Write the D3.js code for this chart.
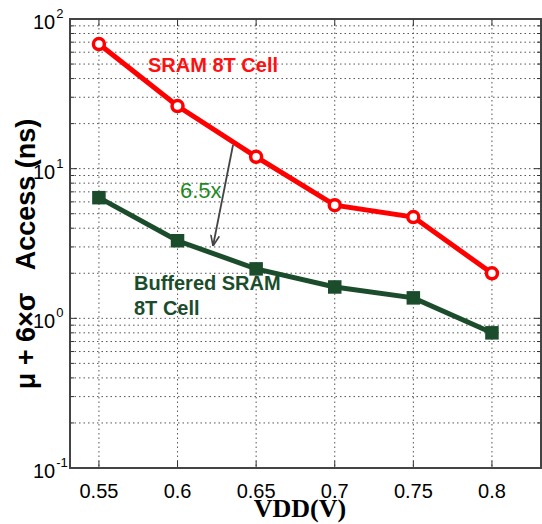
<html>
<head>
    <script src="https://d3js.org/d3.v7.min.js"></script>
    <style>
        body { margin: 0; background: #fff; }
        .grid line { stroke: #555; stroke-dasharray: 1.5,3; stroke-width: 1; }
        .tick-lbl { font-family: "Liberation Sans", Arial, sans-serif; font-size: 20px; fill: #000; }
    </style>
</head>
<body>
    <script>
        // data
        var vdd = [0.55, 0.6, 0.65, 0.7, 0.75, 0.8];
        var sram8T = [68, 26.2, 12, 5.7, 4.75, 2.0];
        var buffered8T = [6.4, 3.3, 2.14, 1.62, 1.37, 0.80];
        var xTicks = ["0.55", "0.6", "0.65", "0.7", "0.75", "0.8"];
        var yDecades = [-1, 0, 1, 2];

        var width = 542, height = 524;
        var pLeft = 70, pRight = 541, pTop = 19, pBottom = 468;

        var svg = d3.select("body").append("svg")
            .attr("width", width)
            .attr("height", height);

        var x = d3.scaleLinear().domain([0.5316, 0.8312]).range([pLeft, pRight]);
        var y = d3.scaleLog().domain([0.1, 100]).range([pBottom, pTop]);

        // grid lines
        var minor = [];
        for (var e = -1; e < 2; e++) {
            for (var m = 2; m <= 9; m++) minor.push(m * Math.pow(10, e));
        }
        var grid = svg.append("g").attr("class", "grid");
        grid.selectAll(".h")
            .data(minor.concat([1, 10]))
            .enter().append("line")
            .attr("x1", pLeft).attr("x2", pRight)
            .attr("y1", function (d) { return y(d); })
            .attr("y2", function (d) { return y(d); });
        grid.selectAll(".v")
            .data(vdd)
            .enter().append("line")
            .attr("y1", pTop).attr("y2", pBottom)
            .attr("x1", function (d) { return x(d); })
            .attr("x2", function (d) { return x(d); });

        // inward ticks, matlab style
        var ticks = svg.append("g").attr("stroke", "#333").attr("stroke-width", 1);
        minor.forEach(function (d) {
            ticks.append("line").attr("x1", pLeft).attr("x2", pLeft + 4).attr("y1", y(d)).attr("y2", y(d));
            ticks.append("line").attr("x1", pRight).attr("x2", pRight - 4).attr("y1", y(d)).attr("y2", y(d));
        });
        [1, 10].forEach(function (d) {
            ticks.append("line").attr("x1", pLeft).attr("x2", pLeft + 7).attr("y1", y(d)).attr("y2", y(d));
            ticks.append("line").attr("x1", pRight).attr("x2", pRight - 7).attr("y1", y(d)).attr("y2", y(d));
        });
        vdd.forEach(function (d) {
            ticks.append("line").attr("x1", x(d)).attr("x2", x(d)).attr("y1", pBottom).attr("y2", pBottom - 7);
            ticks.append("line").attr("x1", x(d)).attr("x2", x(d)).attr("y1", pTop).attr("y2", pTop + 7);
        });

        // frame
        svg.append("rect")
            .attr("x", pLeft).attr("y", pTop)
            .attr("width", pRight - pLeft).attr("height", pBottom - pTop)
            .attr("fill", "none").attr("stroke", "#444").attr("stroke-width", 2);

        // y tick labels 10^n
        yDecades.forEach(function (d) {
            var t = svg.append("text").attr("class", "tick-lbl")
                .attr("x", 33).attr("y", y(Math.pow(10, d)) + 10)
                .attr("font-size", "21px");
            t.append("tspan").text("10");
            t.append("tspan").attr("dx", 1).attr("dy", -11).attr("font-size", "13px").text(d);
        });

        // x tick labels
        svg.selectAll(".xl")
            .data(vdd)
            .enter().append("text")
            .attr("class", "tick-lbl")
            .attr("x", function (d) { return x(d); })
            .attr("y", 498)
            .attr("text-anchor", "middle")
            .text(function (d, i) { return xTicks[i]; });

        // axis titles
        svg.append("text")
            .attr("x", 300).attr("y", 517)
            .attr("text-anchor", "middle")
            .attr("font-family", "Liberation Serif, Times New Roman, serif")
            .attr("font-weight", "bold")
            .attr("font-size", "26px")
            .text("VDD(V)");
        svg.append("text")
            .attr("transform", "translate(35,254) rotate(-90)")
            .attr("text-anchor", "middle")
            .attr("font-family", "Liberation Sans, Arial, sans-serif")
            .attr("font-weight", "bold")
            .attr("font-size", "27px")
            .attr("xml:space", "preserve")
            .text("\u03bc + 6\u00d7\u03c3   Access (ns)");

        // series
        var line = d3.line()
            .x(function (d) { return x(d[0]); })
            .y(function (d) { return y(d[1]); });
        var red = vdd.map(function (v, i) { return [v, sram8T[i]]; });
        var green = vdd.map(function (v, i) { return [v, buffered8T[i]]; });

        svg.append("path").datum(red)
            .attr("d", line).attr("fill", "none")
            .attr("stroke", "#ff0000").attr("stroke-width", 5);
        svg.selectAll(".rm").data(red).enter().append("circle")
            .attr("cx", function (d) { return x(d[0]); })
            .attr("cy", function (d) { return y(d[1]); })
            .attr("r", 5.5)
            .attr("fill", "#fff").attr("stroke", "#ff0000").attr("stroke-width", 3.5);

        svg.append("path").datum(green)
            .attr("d", line).attr("fill", "none")
            .attr("stroke", "#1b4d2c").attr("stroke-width", 5);
        svg.selectAll(".gm").data(green).enter().append("rect")
            .attr("x", function (d) { return x(d[0]) - 6; })
            .attr("y", function (d) { return y(d[1]) - 6; })
            .attr("width", 12).attr("height", 12)
            .attr("fill", "#1b4d2c").attr("stroke", "#1b4d2c").attr("stroke-width", 1.5);

        // annotations
        svg.append("text")
            .attr("x", 148).attr("y", 72)
            .attr("font-family", "Liberation Sans, Arial, sans-serif")
            .attr("font-weight", "bold").attr("font-size", "20px")
            .attr("fill", "#ff1010")
            .text("SRAM 8T Cell");
        svg.append("text")
            .attr("x", 180).attr("y", 198)
            .attr("font-family", "Liberation Sans, Arial, sans-serif")
            .attr("font-size", "22px")
            .attr("fill", "#1e8a1e")
            .text("6.5x");
        var bt = svg.append("text")
            .attr("font-family", "Liberation Sans, Arial, sans-serif")
            .attr("font-weight", "bold").attr("font-size", "20px")
            .attr("fill", "#1b4d2c");
        bt.append("tspan").attr("x", 134).attr("y", 290).text("Buffered SRAM");
        bt.append("tspan").attr("x", 134).attr("y", 315).text("8T Cell");

        // arrow
        svg.append("defs").append("marker")
            .attr("id", "arr")
            .attr("viewBox", "0 -5 10 10")
            .attr("refX", 10).attr("refY", 0)
            .attr("markerWidth", 6).attr("markerHeight", 6)
            .attr("orient", "auto")
            .append("path")
            .attr("d", "M0,-4L10,0L0,4").attr("fill", "none")
            .attr("stroke", "#444").attr("stroke-width", 1.5);
        svg.append("line")
            .attr("x1", 233).attr("y1", 145)
            .attr("x2", 213).attr("y2", 246)
            .attr("stroke", "#444").attr("stroke-width", 1.8)
            .attr("marker-end", "url(#arr)");
    </script>
</body>
</html>
